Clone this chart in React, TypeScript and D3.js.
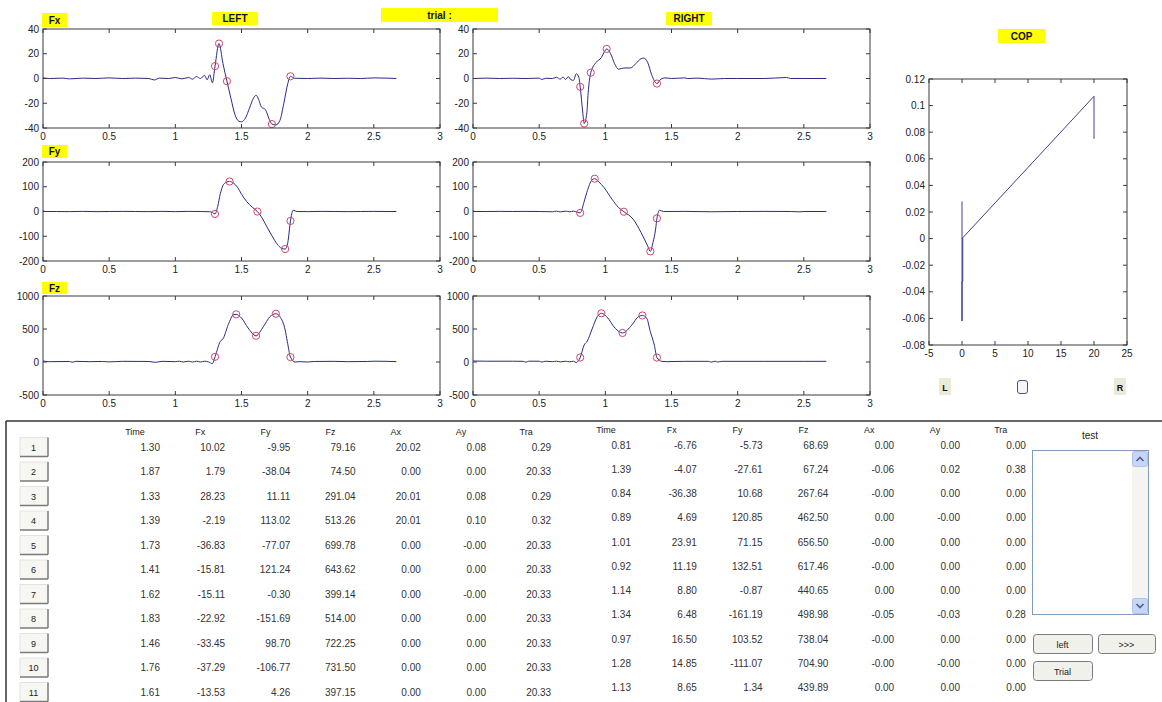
import React from "react";
import * as d3 from "d3";

// ---------- axis ticks ----------
const T_TICKS = [0, 0.5, 1, 1.5, 2, 2.5, 3];
const FX_TICKS = [-40, -20, 0, 20, 40];
const FY_TICKS = [-200, -100, 0, 100, 200];
const FZ_TICKS = [-500, 0, 500, 1000];
const COP_X_TICKS = [-5, 0, 5, 10, 15, 20, 25];
const COP_Y_TICKS = [-0.08, -0.06, -0.04, -0.02, 0, 0.02, 0.04, 0.06, 0.08, 0.1, 0.12];

// ---------- force curves [time, value] ----------
const LEFT_FX: [number, number][] = [
  [0, 0.5], [0.05, 0], [0.15, 0.3], [0.2, -0.3], [0.3, 0.3], [0.4, 0], [0.5, 0.5], [0.6, 0], [0.7, 0.3],
  [0.8, 0], [0.84, -1.2], [0.88, 0.3], [0.95, 0], [1.0, 0.8], [1.05, -0.3], [1.1, 0.8], [1.13, -0.5],
  [1.16, 1.5], [1.19, 0], [1.22, 2.5], [1.24, -1], [1.26, 3], [1.28, -3.5], [1.30, 10.02], [1.33, 28.23],
  [1.36, 12], [1.39, -2.19], [1.42, -16], [1.45, -29], [1.48, -34.5], [1.50, -35], [1.53, -32], [1.56, -24],
  [1.59, -16], [1.61, -13.5], [1.63, -17], [1.65, -23], [1.68, -25], [1.71, -33], [1.73, -36.83], [1.76, -37.5],
  [1.79, -34], [1.82, -20], [1.85, -4], [1.87, 1.79], [1.90, 0.2], [2.0, 0], [2.1, 0.3], [2.2, 0], [2.3, 0.2],
  [2.4, 0], [2.5, 0.5], [2.6, 0.3], [2.67, 0],
];
const RIGHT_FX: [number, number][] = [
  [0, 0], [0.1, 0.3], [0.2, 0], [0.3, 0.2], [0.4, 0], [0.5, 0.3], [0.52, -0.8], [0.55, 0.2], [0.6, 0],
  [0.63, 1], [0.66, -0.5], [0.68, 1.2], [0.70, -0.8], [0.72, 1.5], [0.74, -1], [0.76, -1.5], [0.78, 3.8],
  [0.80, 1], [0.81, -6.76], [0.83, -28], [0.84, -36.38], [0.86, -28], [0.87, -12], [0.89, 4.69], [0.93, 13],
  [0.97, 17], [0.99, 21], [1.01, 23.91], [1.04, 20], [1.07, 12], [1.10, 7.5], [1.14, 8.5], [1.19, 8.5],
  [1.23, 12], [1.27, 16], [1.29, 16.5], [1.32, 13], [1.35, 3], [1.39, -4.07], [1.42, -0.5], [1.45, 0.5],
  [1.5, 0], [1.6, 0.5], [1.62, 0], [1.7, 0.3], [1.8, -0.5], [1.9, 0], [2.0, 0], [2.2, 0], [2.37, 0.8],
  [2.4, 0], [2.5, 0], [2.67, 0],
];
const LEFT_FY: [number, number][] = [
  [0, 3], [0.02, 0], [0.1, 0], [0.2, -0.5], [0.3, 0.5], [0.4, -0.5], [0.5, 0], [0.6, 0.5], [0.7, 0],
  [0.8, -0.5], [0.9, 0.5], [1.0, -0.5], [1.1, 0.5], [1.2, 0], [1.26, -1], [1.28, -4], [1.30, -9.95],
  [1.32, 20], [1.34, 72], [1.37, 113], [1.41, 121.24], [1.44, 115], [1.47, 98], [1.50, 70], [1.54, 40],
  [1.58, 18], [1.62, -0.3], [1.66, -30], [1.68, -50], [1.73, -98], [1.77, -132], [1.80, -148],
  [1.83, -151.69], [1.85, -125], [1.87, -38.04], [1.89, 5], [1.92, 0], [2.0, -0.5], [2.1, 0.5], [2.2, 0],
  [2.3, -0.5], [2.4, 0], [2.5, 0.5], [2.6, 0], [2.67, 0],
];
const RIGHT_FY: [number, number][] = [
  [0, 3], [0.02, 0], [0.1, 0], [0.2, 0.5], [0.3, 0], [0.4, 0.5], [0.5, 0], [0.6, -1], [0.63, 1.5],
  [0.66, -1.5], [0.7, 1.5], [0.73, -1], [0.76, 1.5], [0.79, -3], [0.81, -5.73], [0.84, 40], [0.86, 77],
  [0.90, 128], [0.92, 132.51], [0.95, 120], [0.99, 97], [1.05, 50], [1.10, 16], [1.14, -0.87],
  [1.21, -31], [1.27, -85], [1.32, -139], [1.34, -161.19], [1.36, -125], [1.38, -71], [1.39, -27.61],
  [1.41, 5], [1.44, 0], [1.6, 0.5], [1.8, -1], [2.0, 0], [2.2, 0.5], [2.4, 0], [2.47, -1.5], [2.5, 0],
  [2.67, 0],
];
const LEFT_FZ: [number, number][] = [
  [0, 15], [0.05, 5], [0.2, 8], [0.22, -3], [0.25, 10], [0.35, 5], [0.45, 8], [0.5, 2], [0.6, 10],
  [0.8, 8], [0.85, -5], [0.9, 10], [1.0, 5], [1.03, 12], [1.06, 0], [1.1, 12], [1.13, 0], [1.16, 12],
  [1.19, 0], [1.22, 12], [1.25, 2], [1.28, -25], [1.30, 79.16], [1.34, 313], [1.36, 350], [1.40, 566],
  [1.44, 717], [1.46, 722.25], [1.50, 667], [1.55, 515], [1.61, 397.15], [1.665, 535], [1.715, 687],
  [1.76, 731.5], [1.79, 687], [1.83, 485], [1.846, 313], [1.87, 74.5], [1.905, 0], [1.94, 5], [2.0, 0],
  [2.05, 8], [2.2, 10], [2.3, 5], [2.45, 8], [2.5, 12], [2.6, 10], [2.67, 5],
];
const RIGHT_FZ: [number, number][] = [
  [0, 15], [0.1, 12], [0.3, 12], [0.38, 10], [0.4, -2], [0.42, 12], [0.5, 12], [0.52, 0], [0.55, 12],
  [0.6, 5], [0.63, 12], [0.66, 2], [0.7, 12], [0.73, 3], [0.76, 12], [0.78, -8], [0.81, 68.69],
  [0.84, 258], [0.864, 318], [0.90, 500], [0.94, 690], [0.97, 738.04], [1.01, 687], [1.075, 510],
  [1.13, 439.89], [1.20, 560], [1.25, 687], [1.28, 704.9], [1.313, 662], [1.34, 460], [1.37, 258],
  [1.39, 67.24], [1.425, 10], [1.46, 5], [1.6, 10], [1.78, 10], [1.8, -2], [1.83, 12], [1.85, 0],
  [1.88, 10], [2.2, 10], [2.5, 10], [2.67, 10],
];

// ---------- centre of pressure trajectory ----------
const COP_X = [0, 0, 0, 0.12, 0.12, 0, 20, 20];
const COP_Y = [0.028, -0.062, -0.032, -0.032, 0, 0, 0.107, 0.075];

// ---------- event table ----------
const COLS = ["Time", "Fx", "Fy", "Fz", "Ax", "Ay", "Tra"];
const ROW_IDS = ["1", "2", "3", "4", "5", "6", "7", "8", "9", "10", "11"];

const L_TIME = [1.30, 1.87, 1.33, 1.39, 1.73, 1.41, 1.62, 1.83, 1.46, 1.76, 1.61];
const L_FX = [10.02, 1.79, 28.23, -2.19, -36.83, -15.81, -15.11, -22.92, -33.45, -37.29, -13.53];
const L_FY = [-9.95, -38.04, 11.11, 113.02, -77.07, 121.24, -0.30, -151.69, 98.70, -106.77, 4.26];
const L_FZ = [79.16, 74.50, 291.04, 513.26, 699.78, 643.62, 399.14, 514.00, 722.25, 731.50, 397.15];
const L_AX = [20.02, 0, 20.01, 20.01, 0, 0, 0, 0, 0, 0, 0];
const L_AY = [0.08, 0, 0.08, 0.10, -0, 0, -0, 0, 0, 0, 0];
const L_TRA = [0.29, 20.33, 0.29, 0.32, 20.33, 20.33, 20.33, 20.33, 20.33, 20.33, 20.33];

const R_TIME = [0.81, 1.39, 0.84, 0.89, 1.01, 0.92, 1.14, 1.34, 0.97, 1.28, 1.13];
const R_FX = [-6.76, -4.07, -36.38, 4.69, 23.91, 11.19, 8.80, 6.48, 16.50, 14.85, 8.65];
const R_FY = [-5.73, -27.61, 10.68, 120.85, 71.15, 132.51, -0.87, -161.19, 103.52, -111.07, 1.34];
const R_FZ = [68.69, 67.24, 267.64, 462.50, 656.50, 617.46, 440.65, 498.98, 738.04, 704.90, 439.89];
const R_AX = [0, -0.06, -0, 0, -0, -0, 0, -0.05, -0, -0, 0];
const R_AY = [0, 0.02, 0, -0, 0, 0, 0, -0.03, 0, -0, 0];
const R_TRA = [0, 0.38, 0, 0, 0, 0, 0, 0.28, 0, 0, 0];

// rows of the table marked on each force plot
const MARK_FX_ROWS = [0, 2, 3, 4, 1];
const MARK_FY_ROWS = [0, 5, 6, 7, 1];
const MARK_FZ_ROWS = [0, 8, 10, 9, 1];

const FONT = "'Liberation Sans', Arial, Helvetica, sans-serif";
const LINE = "#2a2a86";
const MARK = "#d2456a";
const AXC = "#3a3a3a";
const TXT = "#222";

type Box = { x0: number; x1: number; y0: number; y1: number };

function fmt(v: number) {
  if (Object.is(v, -0)) return "-0.00";
  return v.toFixed(2);
}

function Axes(props: {
  box: Box;
  xs: d3.ScaleLinear<number, number>;
  ys: d3.ScaleLinear<number, number>;
  xTicks: number[];
  yTicks: number[];
  children?: React.ReactNode;
}) {
  const { box, xs, ys, xTicks, yTicks } = props;
  const tl = 4;
  return (
    <g>
      <rect x={box.x0} y={box.y0} width={box.x1 - box.x0} height={box.y1 - box.y0} fill="#fff" />
      {props.children}
      <rect x={box.x0} y={box.y0} width={box.x1 - box.x0} height={box.y1 - box.y0} fill="none" stroke={AXC} strokeWidth={1} />
      {xTicks.map((t, i) => {
        const x = xs(t);
        return (
          <g key={"xt" + i}>
            <line x1={x} x2={x} y1={box.y1} y2={box.y1 - tl} stroke={AXC} />
            <line x1={x} x2={x} y1={box.y0} y2={box.y0 + tl} stroke={AXC} />
            <text x={x} y={box.y1 + 12} textAnchor="middle" fontSize={10} fontFamily={FONT} fill={TXT}>
              {String(t)}
            </text>
          </g>
        );
      })}
      {yTicks.map((t, i) => {
        const y = ys(t);
        return (
          <g key={"yt" + i}>
            <line x1={box.x0} x2={box.x0 + tl} y1={y} y2={y} stroke={AXC} />
            <line x1={box.x1} x2={box.x1 - tl} y1={y} y2={y} stroke={AXC} />
            <text x={box.x0 - 4} y={y + 3.5} textAnchor="end" fontSize={10} fontFamily={FONT} fill={TXT}>
              {String(t)}
            </text>
          </g>
        );
      })}
    </g>
  );
}

function ForcePlot(props: {
  box: Box;
  yDomain: [number, number];
  yTicks: number[];
  data: [number, number][];
  times: number[];
  values: number[];
  rows: number[];
}) {
  const { box } = props;
  const xs = d3.scaleLinear().domain([0, 3]).range([box.x0, box.x1]);
  const ys = d3.scaleLinear().domain(props.yDomain).range([box.y1, box.y0]);
  const line = d3
    .line<[number, number]>()
    .x((d) => xs(d[0]))
    .y((d) => ys(d[1]))
    .curve(d3.curveMonotoneX);
  return (
    <Axes box={box} xs={xs} ys={ys} xTicks={T_TICKS} yTicks={props.yTicks}>
      <path d={line(props.data) || ""} fill="none" stroke={LINE} strokeWidth={1} />
      {props.rows.map((r) => (
        <circle key={r} cx={xs(props.times[r])} cy={ys(props.values[r])} r={3.6} fill="none" stroke={MARK} strokeWidth={1} />
      ))}
    </Axes>
  );
}

function Label(props: { x: number; y: number; w: number; h: number; text: string }) {
  return (
    <g>
      <rect x={props.x} y={props.y} width={props.w} height={props.h} fill="#ffff00" />
      <text x={props.x + props.w / 2} y={props.y + props.h / 2 + 3.5} textAnchor="middle" fontSize={10} fontWeight="bold" fontFamily={FONT} fill="#111">
        {props.text}
      </text>
    </g>
  );
}

function XpButton(props: { x: number; y: number; w: number; h: number; text: string }) {
  return (
    <g>
      <rect x={props.x + 0.5} y={props.y + 0.5} width={props.w} height={props.h} rx={3} fill="#f1f1ec" stroke="#7b7b7b" strokeWidth={1} />
      <text x={props.x + props.w / 2} y={props.y + props.h / 2 + 4} textAnchor="middle" fontSize={9} fontFamily={FONT} fill={TXT}>
        {props.text}
      </text>
    </g>
  );
}

export default function App() {
  const W = 1162;
  const H = 702;
  const rowsBox: [number, number][] = [
    [29, 128],
    [162, 261],
    [296, 395],
  ];
  const LB = (r: number): Box => ({ x0: 43, x1: 440, y0: rowsBox[r][0], y1: rowsBox[r][1] });
  const RB = (r: number): Box => ({ x0: 473, x1: 870, y0: rowsBox[r][0], y1: rowsBox[r][1] });

  const copBox: Box = { x0: 929, x1: 1127, y0: 79, y1: 345 };
  const copX = d3.scaleLinear().domain([-5, 25]).range([copBox.x0, copBox.x1]);
  const copY = d3.scaleLinear().domain([-0.08, 0.12]).range([copBox.y1, copBox.y0]);
  const copLine = d3
    .line<number>()
    .x((_, i) => copX(COP_X[i]))
    .y((d) => copY(d));

  const leftCols = [L_TIME, L_FX, L_FY, L_FZ, L_AX, L_AY, L_TRA];
  const rightCols = [R_TIME, R_FX, R_FY, R_FZ, R_AX, R_AY, R_TRA];
  const lRowY = (i: number) => 447 + 24.5 * i;
  const rRowY = (i: number) => 445 + 24.25 * i;
  const lColX = (k: number) => 160 + 65.2 * k;
  const rColX = (k: number) => 631 + 65.8 * k;

  return (
    <svg width={W} height={H} style={{ position: "absolute", left: 0, top: 0, background: "#fff" }}>
      <rect x={0} y={0} width={W} height={H} fill="#fff" />

      {/* force plots */}
      <ForcePlot box={LB(0)} yDomain={[-40, 40]} yTicks={FX_TICKS} data={LEFT_FX} times={L_TIME} values={L_FX} rows={MARK_FX_ROWS} />
      <ForcePlot box={RB(0)} yDomain={[-40, 40]} yTicks={FX_TICKS} data={RIGHT_FX} times={R_TIME} values={R_FX} rows={MARK_FX_ROWS} />
      <ForcePlot box={LB(1)} yDomain={[-200, 200]} yTicks={FY_TICKS} data={LEFT_FY} times={L_TIME} values={L_FY} rows={MARK_FY_ROWS} />
      <ForcePlot box={RB(1)} yDomain={[-200, 200]} yTicks={FY_TICKS} data={RIGHT_FY} times={R_TIME} values={R_FY} rows={MARK_FY_ROWS} />
      <ForcePlot box={LB(2)} yDomain={[-500, 1000]} yTicks={FZ_TICKS} data={LEFT_FZ} times={L_TIME} values={L_FZ} rows={MARK_FZ_ROWS} />
      <ForcePlot box={RB(2)} yDomain={[-500, 1000]} yTicks={FZ_TICKS} data={RIGHT_FZ} times={R_TIME} values={R_FZ} rows={MARK_FZ_ROWS} />

      {/* COP plot */}
      <Axes box={copBox} xs={copX} ys={copY} xTicks={COP_X_TICKS} yTicks={COP_Y_TICKS}>
        <path d={copLine(COP_Y) || ""} fill="none" stroke={LINE} strokeWidth={0.9} />
      </Axes>

      {/* yellow labels */}
      <Label x={42} y={13} w={25} h={14} text="Fx" />
      <Label x={212} y={12} w={46} h={13} text="LEFT" />
      <Label x={381} y={8} w={117} h={14} text="trial :" />
      <Label x={666} y={12} w={46} h={13} text="RIGHT" />
      <Label x={42} y={145} w={25} h={13} text="Fy" />
      <Label x={42} y={282} w={25} h={12} text="Fz" />
      <Label x={998} y={29} w={47} h={14} text="COP" />

      {/* L / R / checkbox */}
      <rect x={939} y={378} width={12} height={17} fill="#ece9d8" />
      <text x={945} y={390.5} textAnchor="middle" fontSize={9} fontWeight="bold" fontFamily={FONT} fill="#111">L</text>
      <rect x={1114} y={378} width={12} height={17} fill="#ece9d8" />
      <text x={1120} y={390.5} textAnchor="middle" fontSize={9} fontWeight="bold" fontFamily={FONT} fill="#111">R</text>
      <rect x={1017.5} y={380.5} width={10} height={13} rx={2.5} fill="#f4f6f8" stroke="#3d5a7a" strokeWidth={1} />

      {/* table panel */}
      <line x1={6} x2={W} y1={421} y2={421} stroke="#333" strokeWidth={1.5} />
      <line x1={6} x2={6} y1={421} y2={H} stroke="#333" strokeWidth={1.5} />

      {COLS.map((c, k) => (
        <text key={"lh" + k} x={lColX(k) - 25} y={435} textAnchor="middle" fontSize={9} fontFamily={FONT} fill={TXT}>{c}</text>
      ))}
      {COLS.map((c, k) => (
        <text key={"rh" + k} x={rColX(k) - 25} y={433} textAnchor="middle" fontSize={9} fontFamily={FONT} fill={TXT}>{c}</text>
      ))}

      {ROW_IDS.map((id, i) => {
        const y = lRowY(i);
        return (
          <g key={"btn" + i}>
            <rect x={20} y={y - 9.5} width={28} height={19} fill="#f6f6f2" />
            <line x1={20} x2={48} y1={y - 9.5} y2={y - 9.5} stroke="#e2e2de" />
            <line x1={20} x2={20} y1={y - 9.5} y2={y + 9.5} stroke="#e2e2de" />
            <line x1={20} x2={48} y1={y + 9.5} y2={y + 9.5} stroke="#7a7a7a" strokeWidth={1.5} />
            <line x1={48} x2={48} y1={y - 9.5} y2={y + 9.5} stroke="#7a7a7a" strokeWidth={1.5} />
            <text x={33.5} y={y + 3.5} textAnchor="middle" fontSize={9} fontFamily={FONT} fill={TXT}>{id}</text>
          </g>
        );
      })}

      {leftCols.map((col, k) =>
        col.map((v, i) => (
          <text key={"lv" + k + "_" + i} x={lColX(k)} y={lRowY(i) + 3.5} textAnchor="end" fontSize={10} fontFamily={FONT} fill="#333">{fmt(v)}</text>
        ))
      )}
      {rightCols.map((col, k) =>
        col.map((v, i) => (
          <text key={"rv" + k + "_" + i} x={rColX(k)} y={rRowY(i) + 3.5} textAnchor="end" fontSize={10} fontFamily={FONT} fill="#333">{fmt(v)}</text>
        ))
      )}

      {/* list box */}
      <text x={1090} y={439} textAnchor="middle" fontSize={10} fontFamily={FONT} fill={TXT}>test</text>
      <rect x={1032.5} y={450.5} width={116} height={164} fill="#fff" stroke="#7f9db9" />
      <rect x={1132} y={451} width={16} height={163} fill="#f4f4f0" />
      <rect x={1132.5} y={451.5} width={15} height={15} rx={2} fill="#c7d6f7" stroke="#b0c2ea" />
      <path d="M1136.5,461 L1140,457.5 L1143.5,461" fill="none" stroke="#4d6185" strokeWidth={1.6} />
      <rect x={1132.5} y={598.5} width={15} height={15} rx={2} fill="#c7d6f7" stroke="#b0c2ea" />
      <path d="M1136.5,604 L1140,607.5 L1143.5,604" fill="none" stroke="#4d6185" strokeWidth={1.6} />

      <XpButton x={1033} y={634} w={59} h={19} text="left" />
      <XpButton x={1098} y={634} w={57} h={19} text=">>>" />
      <XpButton x={1033} y={661} w={59} h={19} text="Trial" />
    </svg>
  );
}
